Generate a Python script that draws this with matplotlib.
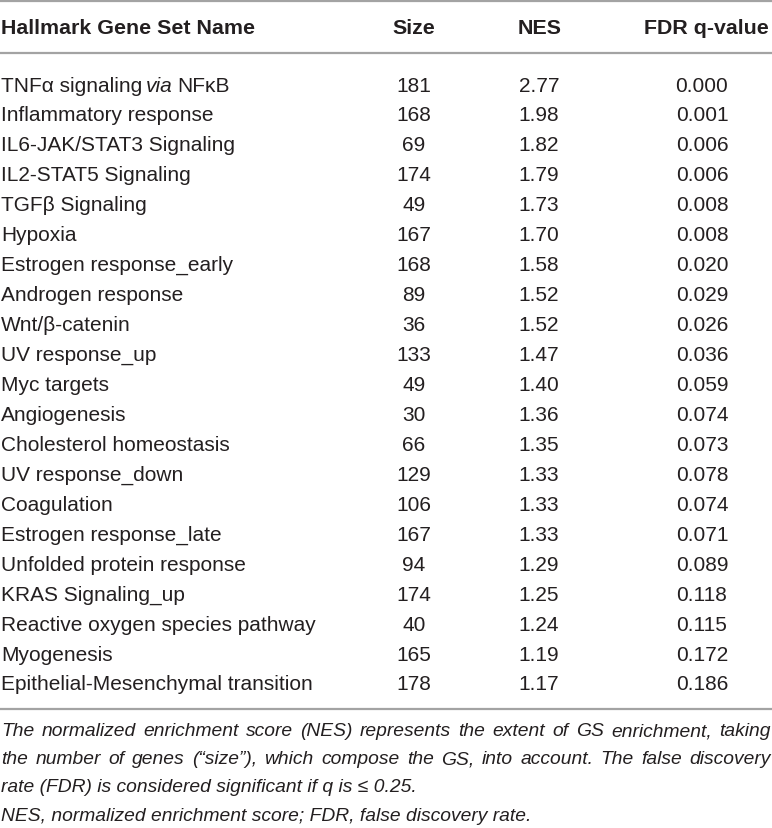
import matplotlib
matplotlib.use("Agg")
import matplotlib.pyplot as plt

names = ["TNFα signaling via NFκB", "Inflammatory response", "IL6-JAK/STAT3 Signaling",
         "IL2-STAT5 Signaling", "TGFβ Signaling", "Hypoxia", "Estrogen response_early",
         "Androgen response", "Wnt/β-catenin", "UV response_up", "Myc targets",
         "Angiogenesis", "Cholesterol homeostasis", "UV response_down", "Coagulation",
         "Estrogen response_late", "Unfolded protein response", "KRAS Signaling_up",
         "Reactive oxygen species pathway", "Myogenesis",
         "Epithelial-Mesenchymal transition"]
sizes = [181, 168, 69, 174, 49, 167, 168, 89, 36, 133, 49, 30, 66, 129, 106, 167, 94,
         174, 40, 165, 178]
nes = [2.77, 1.98, 1.82, 1.79, 1.73, 1.70, 1.58, 1.52, 1.52, 1.47, 1.40, 1.36, 1.35,
       1.33, 1.33, 1.33, 1.29, 1.25, 1.24, 1.19, 1.17]
fdr = [0.000, 0.001, 0.006, 0.006, 0.008, 0.008, 0.020, 0.029, 0.026, 0.036, 0.059,
       0.074, 0.073, 0.078, 0.074, 0.071, 0.089, 0.118, 0.115, 0.172, 0.186]
headers = ["Hallmark Gene Set Name", "Size", "NES", "FDR q-value"]
footnote = [
    "The normalized enrichment score (NES) represents the extent of GS enrichment, taking",
    "the number of genes (\u201csize\u201d), which compose the GS, into account. The false discovery",
    "rate (FDR) is considered significant if q is \u2264 0.25.",
    "NES, normalized enrichment score; FDR, false discovery rate.",
]

W, H = 772, 829
FONT = "Liberation Sans"
FS = 15
TXT = "#231f20"
RULE = "#a3a3a3"

fig = plt.figure(figsize=(W / 100, H / 100), dpi=100)
ax = fig.add_axes([0, 0, 1, 1])
ax.set_xlim(0, W)
ax.set_ylim(H, 0)
ax.axis("off")
fig.canvas.draw()
rend = fig.canvas.get_renderer()

def txt(x, y, s, **kw):
    kw.setdefault("fontsize", FS)
    return ax.text(x, y, s, family=FONT, color=TXT, va="center", **kw)

def width(t):
    return t.get_window_extent(renderer=rend).width

# rules
for y in [1.5, 54, 710]:
    ax.plot([0, W], [y, y], color=RULE, lw=1.6, solid_capstyle="butt")

col_x = [1, 414, 539, 702]
hdr_x = [1, 414, 540, 706]
hy = 28.5
txt(hdr_x[0], hy, headers[0], ha="left", weight="bold", fontsize=15.4)
for i in range(1, 4):
    txt(hdr_x[i], hy, headers[i], ha="center", weight="bold", fontsize=15.4)

y0, dy = 86, 29.95
for r in range(len(names)):
    y = y0 + r * dy
    if "via" in names[r]:
        pre, post = names[r].split("via")
        t = txt(col_x[0], y, pre.rstrip(), ha="left")
        x = col_x[0] + width(t) + 4
        t = txt(x, y, "via", ha="left", style="italic")
        x += width(t) + 4
        txt(x, y, post.lstrip(), ha="left")
    else:
        txt(col_x[0], y, names[r], ha="left")
    txt(col_x[1], y, f"{sizes[r]}", ha="center")
    txt(col_x[2], y, f"{nes[r]:.2f}", ha="center")
    txt(col_x[3], y, f"{fdr[r]:.3f}", ha="center")

# footnote, first two lines justified
fy = [732, 760, 788, 817]
FFS = 13.9
for i, line in enumerate(footnote):
    if i < 2:
        words = line.split(" ")
        ts = [txt(0, fy[i], w, ha="left", style="italic", fontsize=FFS) for w in words]
        ws = [width(t) for t in ts]
        gap = (W - 2 - sum(ws)) / (len(words) - 1)
        x = 1
        for t, w in zip(ts, ws):
            t.set_x(x)
            x += w + gap
    else:
        txt(1, fy[i], line, ha="left", style="italic", fontsize=FFS)

fig.savefig("out.png", dpi=100)
